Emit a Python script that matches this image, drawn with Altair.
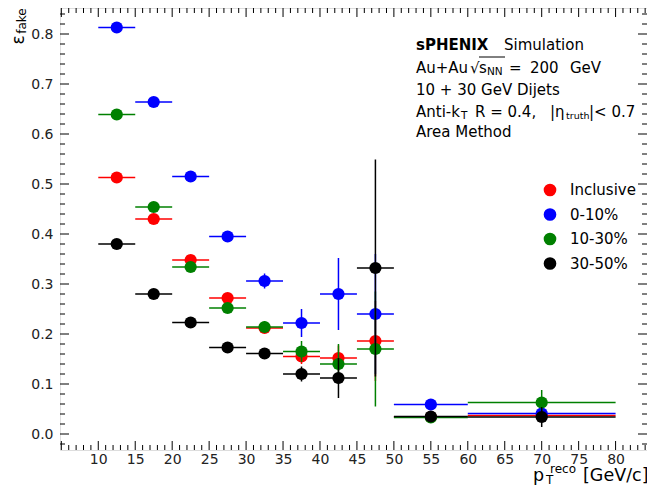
import altair as alt
import pandas as pd
import numpy as np

FONT = "DejaVu Sans"

# ---------------- data ----------------
series = ["Inclusive", "0-10%", "10-30%", "30-50%"]
colors = ["#ff0000", "#0000ff", "#008000", "#000000"]

pt_center = [12.5, 17.5, 22.5, 27.5, 32.5, 37.5, 42.5, 47.5, 55, 70]
pt_low = [10, 15, 20, 25, 30, 35, 40, 45, 50, 60]
pt_high = [15, 20, 25, 30, 35, 40, 45, 50, 60, 80]

eff_incl = [0.513, 0.430, 0.348, 0.272, 0.212, 0.155, 0.152, 0.186, 0.034, 0.037]
eff_0_10 = [0.813, 0.664, 0.515, 0.395, 0.306, 0.222, 0.280, 0.240, 0.059, 0.041]
eff_10_30 = [0.639, 0.454, 0.334, 0.252, 0.214, 0.165, 0.140, 0.170, 0.033, 0.063]
eff_30_50 = [0.380, 0.280, 0.223, 0.173, 0.161, 0.120, 0.112, 0.332, 0.035, 0.034]

err_incl = [0.004, 0.005, 0.006, 0.008, 0.010, 0.015, 0.025, 0.080, 0.003, 0.004]
err_0_10 = [0.005, 0.006, 0.008, 0.010, 0.015, 0.028, 0.072, 0.120, 0.005, 0.004]
err_10_30 = [0.005, 0.006, 0.008, 0.010, 0.012, 0.021, 0.040, 0.115, 0.004, 0.025]
err_30_50 = [0.004, 0.005, 0.006, 0.008, 0.010, 0.015, 0.040, 0.217, 0.004, 0.020]

x_labels = [10, 15, 20, 25, 30, 35, 40, 45, 50, 55, 60, 65, 70, 75, 80]
y_labels = [0.0, 0.1, 0.2, 0.3, 0.4, 0.5, 0.6, 0.7, 0.8]

effs = [eff_incl, eff_0_10, eff_10_30, eff_30_50]
errs = [err_incl, err_0_10, err_10_30, err_30_50]

rows = []
for s, ev, er in zip(series, effs, errs):
    for c, lo, hi, e, d in zip(pt_center, pt_low, pt_high, ev, er):
        rows.append(dict(series=s, grp=s, pT=c, lo=lo, hi=hi, eff=e, elo=e - d, ehi=e + d))
df = pd.DataFrame(rows)

# ---------------- layout ----------------
W, H = 587, 442
OX, OY = 60, 8  # plot origin on page
XMIN, XMAX = 4.82, 84.25

xs = alt.Scale(domain=[XMIN, XMAX], nice=False, zero=False)
ys = alt.Scale(domain=[-0.032, 0.852], nice=False, zero=False)
cs = alt.Scale(domain=series, range=colors)

x_axis = alt.Axis(values=x_labels, format="d", ticks=False, domain=False, grid=False,
                  labelFontSize=14, labelFont=FONT, labelColor="#222", labelPadding=2,
                  title=None)
y_axis = alt.Axis(values=y_labels, format=".1f", ticks=False, domain=False, grid=False,
                  labelFontSize=14, labelFont=FONT, labelColor="#222", labelPadding=7,
                  title=None)

def X(f):
    return alt.X(f, scale=xs, axis=x_axis, title=None)

def Y(f):
    return alt.Y(f, scale=ys, axis=y_axis, title=None)

layers = []

# tick marks (inward, all four sides)
x_major = [v for v in range(5, 86, 5) if XMIN < v < XMAX]
x_minor = [v for v in range(5, 86) if v % 5 != 0 and XMIN < v < XMAX]
y_major = [round(v, 2) for v in np.arange(0.0, 0.81, 0.1)]
y_minor = [round(v, 2) for v in np.arange(-0.02, 0.85, 0.02) if abs(round(v * 10) - v * 10) > 1e-6]

def xticks(vals, L):
    d = pd.DataFrame({"v": vals})
    b = alt.Chart(d).mark_rule(color="black", strokeWidth=1).encode(
        x=X("v:Q"), y=alt.value(H), y2=alt.value(H - L))
    t = alt.Chart(d).mark_rule(color="black", strokeWidth=1).encode(
        x=X("v:Q"), y=alt.value(0), y2=alt.value(L))
    return [b, t]

def yticks(vals, L):
    d = pd.DataFrame({"v": vals})
    l = alt.Chart(d).mark_rule(color="black", strokeWidth=1).encode(
        y=Y("v:Q"), x=alt.value(0), x2=alt.value(L))
    r = alt.Chart(d).mark_rule(color="black", strokeWidth=1).encode(
        y=Y("v:Q"), x=alt.value(W), x2=alt.value(W - L))
    return [l, r]

layers += xticks(x_major, 9) + xticks(x_minor, 5) + yticks(y_major, 9) + yticks(y_minor, 5)

for s in series:
    d = df[df.series == s]
    h = alt.Chart(d).mark_rule(strokeWidth=1.5).encode(
        x=X("lo:Q"), x2="hi:Q", y=Y("eff:Q"),
        stroke=alt.Stroke("grp:N", scale=cs, legend=None))
    v = alt.Chart(d).mark_rule(strokeWidth=1.5).encode(
        x=X("pT:Q"), y=Y("elo:Q"), y2="ehi:Q",
        stroke=alt.Stroke("grp:N", scale=cs, legend=None))
    p = alt.Chart(d).mark_circle(size=150, opacity=1).encode(
        x=X("pT:Q"), y=Y("eff:Q"),
        color=alt.Color("series:N", scale=cs, legend=None))
    layers += [h, v, p]

one = pd.DataFrame({"k": [0]})

def txt(s, x, y, size=15, weight="normal", angle=0, align="left", baseline="middle"):
    return alt.Chart(one).mark_text(text=s, fontSize=size, fontWeight=weight, angle=angle,
                                    align=align, baseline=baseline, font=FONT,
                                    color="black").encode(
        x=alt.value(x - OX), y=alt.value(y - OY))

# legend (drawn as decoration, one row per series)
for i, (s, c) in enumerate(zip(series, colors)):
    yy = 190 + i * 24.5
    layers.append(alt.Chart(one).mark_circle(size=160, opacity=1, color=c).encode(
        x=alt.value(550 - OX), y=alt.value(yy - OY)))
    layers.append(txt(s, 570, yy, size=15))

# annotation block
layers += [
    txt("sPHENIX", 416, 45, weight="bold"),
    txt("Simulation", 504, 45),
    txt("Au+Au", 416, 68),
    txt("√", 470, 68),
    txt("s", 479, 68),
    txt("NN", 487, 72, size=10.5),
    alt.Chart(one).mark_rule(color="black", strokeWidth=1).encode(
        x=alt.value(479 - OX), x2=alt.value(505 - OX), y=alt.value(57 - OY)),
    txt("=", 509, 68),
    txt("200", 530, 68),
    txt("GeV", 570, 68),
    txt("10 + 30 GeV Dijets", 416, 90),
    txt("Anti-k", 416, 112),
    txt("T", 461, 116, size=10.5),
    txt("R = 0.4,", 475, 112),
    txt("|η", 550, 112),
    txt("truth", 566, 116, size=9.5),
    txt("|< 0.7", 589, 112),
    txt("Area Method", 416, 132),
]

# axis titles
layers += [
    txt("p", 533, 481, size=17.5, baseline="alphabetic"),
    txt("T", 546, 484, size=12, baseline="alphabetic"),
    txt("reco", 550, 473, size=12, baseline="alphabetic"),
    txt("[GeV/c]", 583, 481, size=17.5, baseline="alphabetic"),
    txt("ε", 19, 40, size=17, angle=270, align="center"),
    txt("fake", 22, 21, size=12, angle=270, align="center"),
]

chart = alt.layer(*layers).properties(
    width=W, height=H,
    autosize=alt.AutoSizeParams(type="none"),
    padding={"left": OX - 8, "top": OY - 8, "right": 0, "bottom": 36},
).configure_view(stroke="black", strokeWidth=1.2).configure(background="white")

chart.save("out.html", embed_options={"renderer": "svg", "actions": False})
